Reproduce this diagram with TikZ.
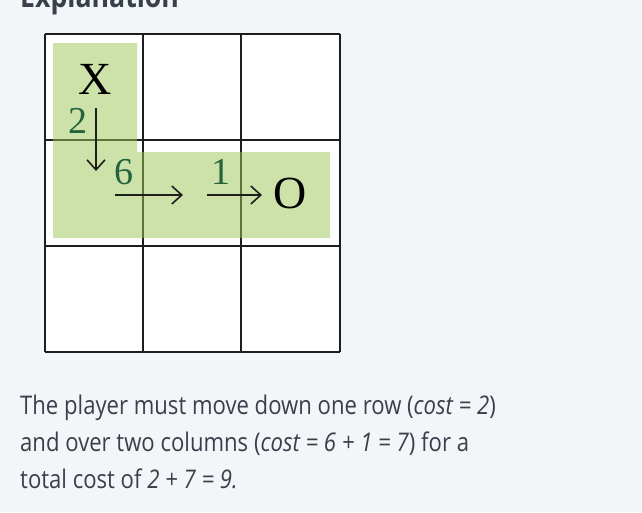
\documentclass[tikz,border=0pt]{standalone}
\usepackage{fontspec}
\setmainfont{Open Sans}[FakeStretch=0.86]
\newfontfamily\boardfont{Liberation Serif}
\usetikzlibrary{arrows.meta}

\definecolor{pagebg}{RGB}{243,246,248}
\definecolor{pathgreen}{RGB}{156,199,84}
\definecolor{costgreen}{RGB}{36,100,60}
\definecolor{bodytext}{RGB}{58,63,76}
\definecolor{gridline}{RGB}{30,30,30}

\begin{document}
\begin{tikzpicture}[
    x=1pt, y=-1pt,
    board/.style={draw=gridline, line width=2.7pt},
    piece/.style={font=\boardfont\fontsize{46}{46}\selectfont, inner sep=0pt},
    cost/.style={font=\boardfont\fontsize{38}{38}\selectfont, text=costgreen, inner sep=0pt},
    move/.style={-{Straight Barb[length=10pt,width=18pt]}, line width=1.6pt, draw=gridline},
    body/.style={anchor=base west, inner sep=0pt, text=bodytext, font=\fontsize{25.7}{37}\selectfont}
]

% Page
\fill[pagebg] (0,0) rectangle (642,512);
\clip (0,0) rectangle (642,512);

% Heading, cut off by the top edge
\node[anchor=base west, inner sep=0pt, text=bodytext, font=\bfseries\fontsize{31}{31}\selectfont] (head) at (20,7) {Explanation};

% Board
\fill[white] (45,34) rectangle (340,352);
\foreach \x in {45,143,241,340}
    \draw[board] (\x,34) -- (\x,352);
\foreach \y in {34,140,246,352}
    \draw[board] (45,\y) -- (340,\y);

% Path taken
\fill[pathgreen, opacity=0.5] (53,43) -- (137,43) -- (137,152) -- (330,152) -- (330,238) -- (53,238) -- cycle;

% Player and goal
\node[piece] (start) at (95,79) {X};
\node[piece] (goal) at (290,193) {O};

% Move costs
\node[cost] (c2) at (78,121) {2};
\node[cost] (c6) at (124,172) {6};
\node[cost] (c1) at (221,172) {1};

% Moves
\coordinate (downtop) at (96,108);
\coordinate (downend) at (96,171);
\coordinate (rightA) at (115,195);
\coordinate (rightB) at (183,195);
\coordinate (rightC) at (207,195);
\coordinate (rightD) at (262,195);
\draw[move] (downtop) -- (downend);
\draw[move] (rightA) -- (rightB);
\draw[move] (rightC) -- (rightD);

% Explanation text
\node[body] (line1) at (20,414) {The player must move down one row (\textit{cost = 2})};
\node[body] (line2) at (20,451) {and over two columns (\textit{cost = 6 + 1 = 7}) for a};
\node[body] (line3) at (20,488) {total cost of \textit{2 + 7 = 9.}};

\end{tikzpicture}
\end{document}
